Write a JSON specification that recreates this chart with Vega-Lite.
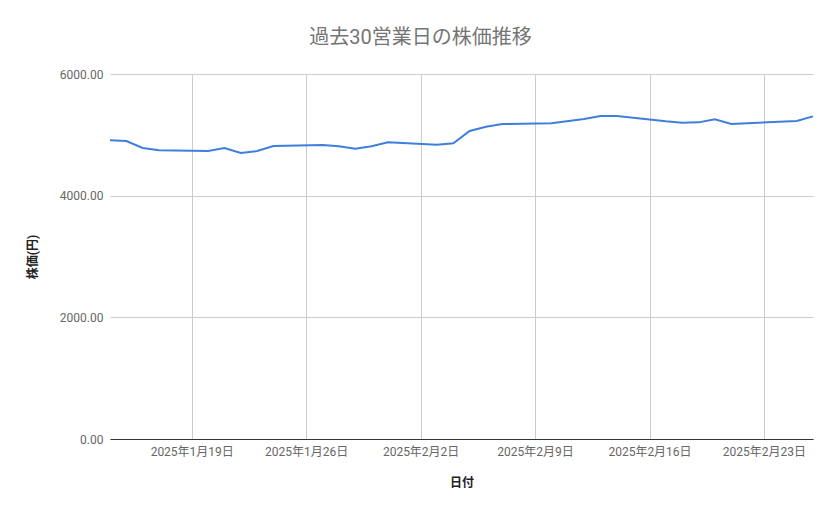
{
  "$schema": "https://vega.github.io/schema/vega-lite/v6.json",
  "width": 703,
  "height": 365,
  "autosize": {"type": "none"},
  "padding": {"left": 110, "top": 74, "right": 26, "bottom": 80},
  "background": "white",
  "title": {
    "text": "過去30営業日の株価推移",
    "fontSize": 20,
    "font": "Roboto, Noto Sans CJK JP",
    "fontWeight": "normal",
    "color": "#757575",
    "anchor": "middle",
    "dx": -41,
    "offset": 20
  },
  "data": {
    "values": [
      {"date": "2025-01-14", "price": 4910},
      {"date": "2025-01-15", "price": 4899},
      {"date": "2025-01-16", "price": 4784},
      {"date": "2025-01-17", "price": 4745},
      {"date": "2025-01-20", "price": 4734},
      {"date": "2025-01-21", "price": 4784},
      {"date": "2025-01-22", "price": 4701},
      {"date": "2025-01-23", "price": 4734},
      {"date": "2025-01-24", "price": 4816},
      {"date": "2025-01-27", "price": 4833},
      {"date": "2025-01-28", "price": 4811},
      {"date": "2025-01-29", "price": 4773},
      {"date": "2025-01-30", "price": 4811},
      {"date": "2025-01-31", "price": 4877},
      {"date": "2025-02-03", "price": 4838},
      {"date": "2025-02-04", "price": 4860},
      {"date": "2025-02-05", "price": 5063},
      {"date": "2025-02-06", "price": 5134},
      {"date": "2025-02-07", "price": 5178},
      {"date": "2025-02-10", "price": 5189},
      {"date": "2025-02-12", "price": 5260},
      {"date": "2025-02-13", "price": 5310},
      {"date": "2025-02-14", "price": 5310},
      {"date": "2025-02-17", "price": 5222},
      {"date": "2025-02-18", "price": 5200},
      {"date": "2025-02-19", "price": 5205},
      {"date": "2025-02-20", "price": 5255},
      {"date": "2025-02-21", "price": 5178},
      {"date": "2025-02-25", "price": 5227},
      {"date": "2025-02-26", "price": 5304}
    ]
  },
  "mark": {"type": "line", "color": "#3f7fdc", "strokeWidth": 2},
  "encoding": {
    "x": {
      "field": "date",
      "type": "temporal",
      "title": "日付",
      "scale": {
        "type": "utc",
        "domain": [
          {"year": 2025, "month": 1, "date": 14, "utc": true},
          {"year": 2025, "month": 2, "date": 26, "utc": true}
        ]
      },
      "axis": {
        "values": [
          {"year": 2025, "month": 1, "date": 19, "utc": true},
          {"year": 2025, "month": 1, "date": 26, "utc": true},
          {"year": 2025, "month": 2, "date": 2, "utc": true},
          {"year": 2025, "month": 2, "date": 9, "utc": true},
          {"year": 2025, "month": 2, "date": 16, "utc": true},
          {"year": 2025, "month": 2, "date": 23, "utc": true}
        ],
        "labelExpr": "utcFormat(datum.value, '%Y年%-m月%-d日')",
        "grid": true,
        "gridColor": "#cccccc",
        "ticks": false,
        "domainColor": "#333333",
        "labelPadding": 7,
        "labelColor": "#666666",
        "labelFontSize": 12,
        "titleFontSize": 12,
        "titleFontWeight": "bold",
        "titleColor": "#222222",
        "titlePadding": 20
      }
    },
    "y": {
      "field": "price",
      "type": "quantitative",
      "title": "株価(円)",
      "scale": {"domain": [0, 6000]},
      "axis": {
        "values": [0, 2000, 4000, 6000],
        "format": ".2f",
        "grid": true,
        "gridColor": "#cccccc",
        "domain": false,
        "ticks": false,
        "labelPadding": 7,
        "labelColor": "#666666",
        "labelFontSize": 12,
        "titleFontSize": 12,
        "titleFontWeight": "bold",
        "titleColor": "#222222",
        "titlePadding": 20
      }
    }
  },
  "config": {
    "view": {"stroke": null},
    "font": "Roboto, Noto Sans CJK JP"
  }
}
